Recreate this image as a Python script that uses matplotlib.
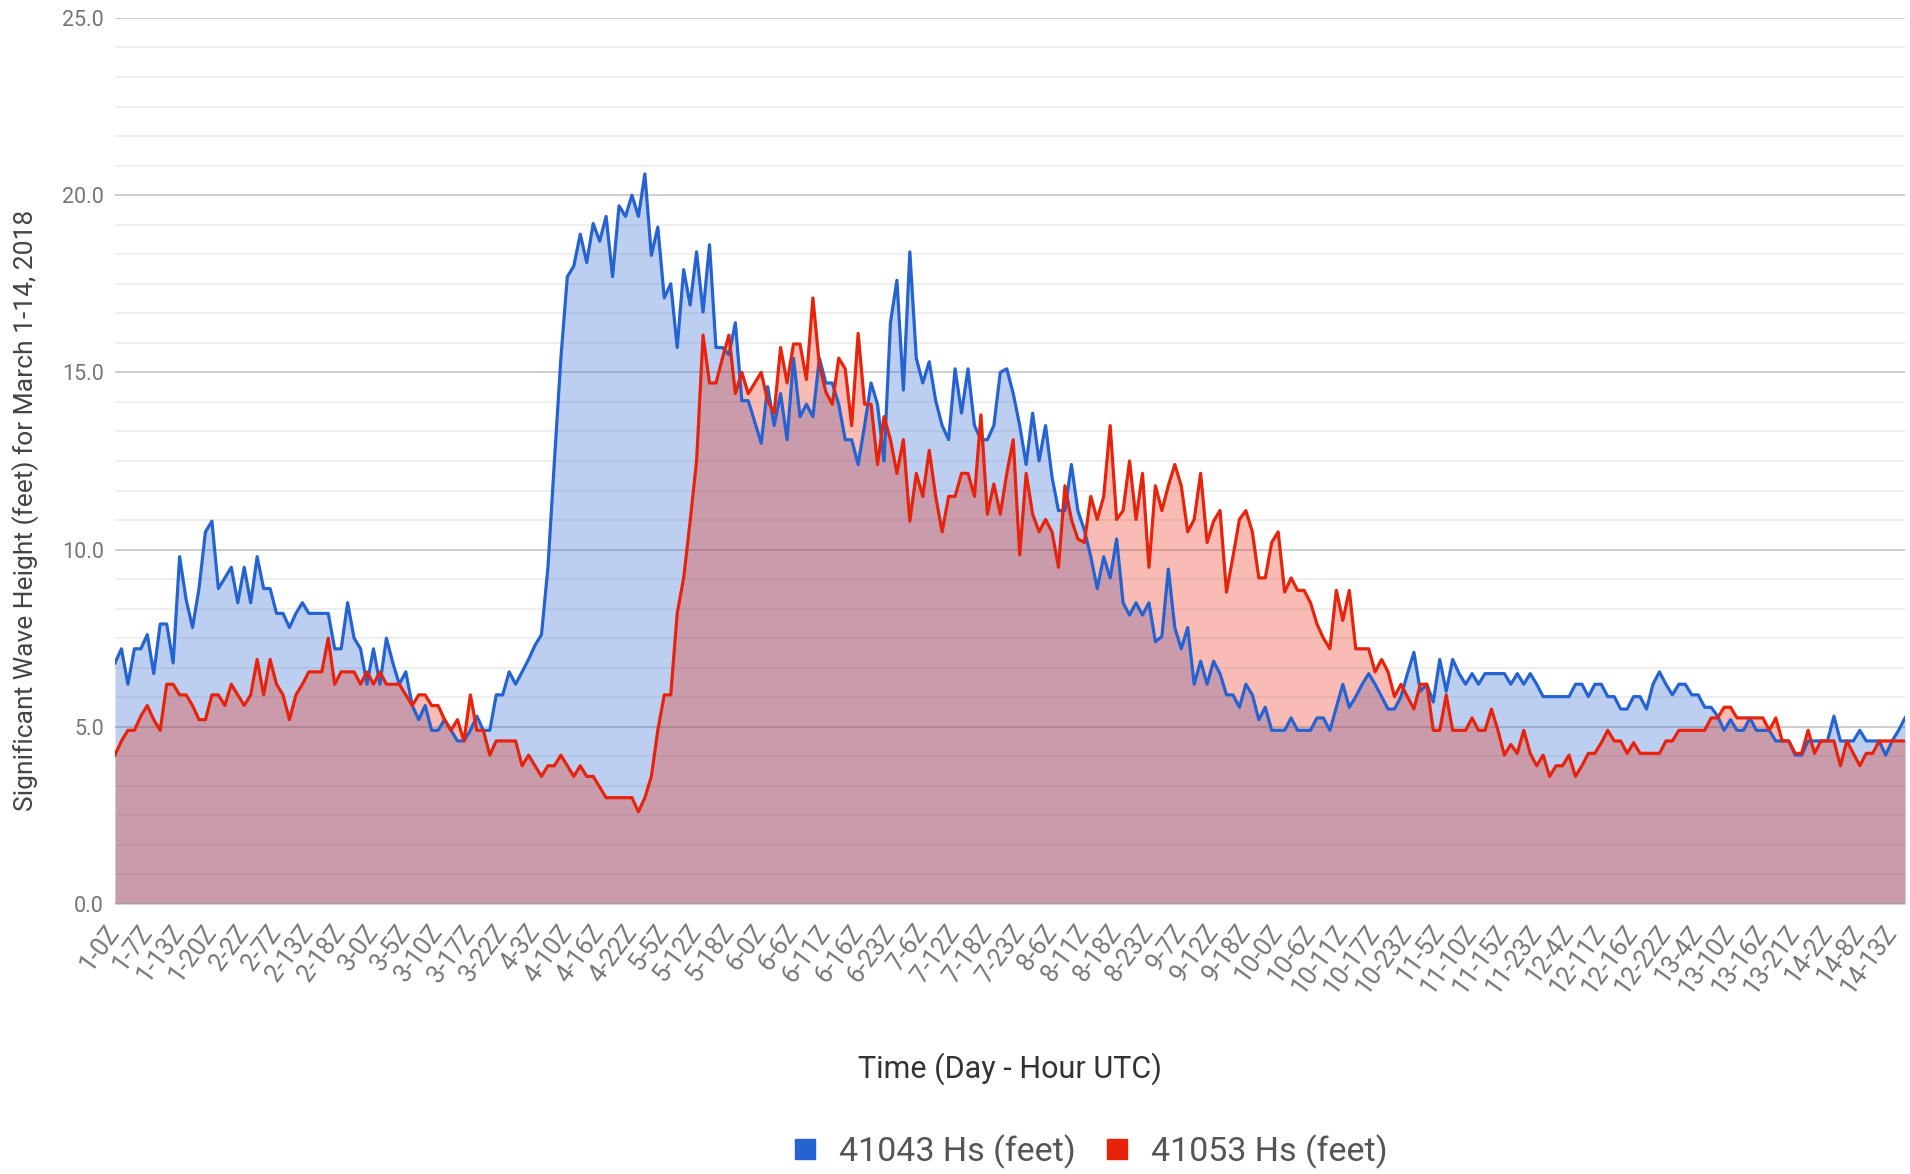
import numpy as np
import matplotlib.pyplot as plt
from matplotlib.lines import Line2D

plt.rcParams['font.family'] = ['Roboto', 'DejaVu Sans']

# hourly significant wave height (feet), March 1-14 2018
buoy_41043 = [
    6.8, 7.2, 6.2, 7.2, 7.2, 7.6, 6.5, 7.9, 7.9, 6.8,
    9.8, 8.6, 7.8, 8.9, 10.5, 10.8, 8.9, 9.2, 9.5, 8.5,
    9.5, 8.5, 9.8, 8.9, 8.9, 8.2, 8.2, 7.8, 8.2, 8.5,
    8.2, 8.2, 8.2, 8.2, 7.2, 7.2, 8.5, 7.5, 7.2, 6.2,
    7.2, 6.2, 7.5, 6.8, 6.2, 6.55, 5.6, 5.2, 5.6, 4.9,
    4.9, 5.2, 4.9, 4.6, 4.6, 4.9, 5.3, 4.9, 4.9, 5.9,
    5.9, 6.55, 6.2, 6.55, 6.9, 7.3, 7.6, 9.5, 12.5, 15.4,
    17.7, 18.0, 18.9, 18.1, 19.2, 18.7, 19.4, 17.7, 19.7, 19.4,
    20.0, 19.4, 20.6, 18.3, 19.1, 17.1, 17.5, 15.7, 17.9, 16.9,
    18.4, 16.7, 18.6, 15.7, 15.7, 15.5, 16.4, 14.2, 14.2, 13.6,
    13.0, 14.6, 13.5, 14.4, 13.1, 15.4, 13.75, 14.1, 13.75, 15.4,
    14.7, 14.7, 14.1, 13.1, 13.1, 12.4, 13.5, 14.7, 14.1, 12.5,
    16.4, 17.6, 14.5, 18.4, 15.4, 14.7, 15.3, 14.2, 13.5, 13.1,
    15.1, 13.85, 15.1, 13.5, 13.1, 13.1, 13.5, 15.0, 15.1, 14.4,
    13.5, 12.4, 13.85, 12.5, 13.5, 12.05, 11.1, 11.1, 12.4, 11.1,
    10.55, 9.8, 8.9, 9.8, 9.2, 10.3, 8.5, 8.15, 8.5, 8.15,
    8.5, 7.4, 7.55, 9.45, 7.8, 7.2, 7.8, 6.2, 6.85, 6.2,
    6.85, 6.5, 5.9, 5.9, 5.55, 6.2, 5.9, 5.2, 5.55, 4.9,
    4.9, 4.9, 5.25, 4.9, 4.9, 4.9, 5.25, 5.25, 4.9, 5.55,
    6.2, 5.55, 5.85, 6.2, 6.5, 6.2, 5.85, 5.5, 5.5, 5.85,
    6.5, 7.1, 6.0, 6.2, 5.7, 6.9, 6.0, 6.9, 6.5, 6.2,
    6.5, 6.2, 6.5, 6.5, 6.5, 6.5, 6.2, 6.5, 6.2, 6.5,
    6.2, 5.85, 5.85, 5.85, 5.85, 5.85, 6.2, 6.2, 5.85, 6.2,
    6.2, 5.85, 5.85, 5.5, 5.5, 5.85, 5.85, 5.5, 6.2, 6.55,
    6.2, 5.9, 6.2, 6.2, 5.9, 5.9, 5.55, 5.55, 5.3, 4.9,
    5.2, 4.9, 4.9, 5.25, 4.9, 4.9, 4.9, 4.6, 4.6, 4.6,
    4.2, 4.2, 4.6, 4.6, 4.6, 4.6, 5.3, 4.6, 4.6, 4.6,
    4.9, 4.6, 4.6, 4.6, 4.2, 4.6, 4.9, 5.25,
]
buoy_41053 = [
    4.2, 4.6, 4.9, 4.9, 5.3, 5.6, 5.2, 4.9, 6.2, 6.2,
    5.9, 5.9, 5.6, 5.2, 5.2, 5.9, 5.9, 5.6, 6.2, 5.9,
    5.6, 5.9, 6.9, 5.9, 6.9, 6.2, 5.9, 5.2, 5.9, 6.2,
    6.55, 6.55, 6.55, 7.5, 6.2, 6.55, 6.55, 6.55, 6.2, 6.55,
    6.2, 6.55, 6.2, 6.2, 6.2, 5.9, 5.6, 5.9, 5.9, 5.6,
    5.6, 5.2, 4.9, 5.2, 4.6, 5.9, 4.9, 4.9, 4.2, 4.6,
    4.6, 4.6, 4.6, 3.9, 4.2, 3.9, 3.6, 3.9, 3.9, 4.2,
    3.9, 3.6, 3.9, 3.6, 3.6, 3.3, 3.0, 3.0, 3.0, 3.0,
    3.0, 2.6, 3.0, 3.6, 4.9, 5.9, 5.9, 8.2, 9.2, 10.8,
    12.5, 16.05, 14.7, 14.7, 15.4, 16.05, 14.4, 15.0, 14.4, 14.7,
    15.0, 14.2, 13.85, 15.7, 14.7, 15.8, 15.8, 14.8, 17.1, 15.2,
    14.45, 14.1, 15.4, 15.1, 13.5, 16.1, 14.1, 14.1, 12.4, 13.75,
    13.1, 12.15, 13.1, 10.8, 12.15, 11.5, 12.8, 11.5, 10.5, 11.5,
    11.5, 12.15, 12.15, 11.5, 13.8, 11.0, 11.85, 11.0, 12.15, 13.1,
    9.85, 12.15, 11.0, 10.5, 10.85, 10.5, 9.5, 11.8, 10.85, 10.3,
    10.2, 11.5, 10.85, 11.5, 13.5, 10.85, 11.1, 12.5, 10.85, 12.15,
    9.5, 11.8, 11.1, 11.8, 12.4, 11.8, 10.5, 10.85, 12.15, 10.2,
    10.8, 11.1, 8.8, 9.8, 10.85, 11.1, 10.5, 9.2, 9.2, 10.2,
    10.5, 8.8, 9.2, 8.85, 8.85, 8.5, 7.9, 7.5, 7.2, 8.85,
    8.0, 8.85, 7.2, 7.2, 7.2, 6.55, 6.9, 6.55, 5.85, 6.2,
    5.85, 5.5, 6.2, 6.2, 4.9, 4.9, 5.9, 4.9, 4.9, 4.9,
    5.25, 4.9, 4.9, 5.5, 4.9, 4.2, 4.5, 4.25, 4.9, 4.25,
    3.9, 4.2, 3.6, 3.9, 3.9, 4.2, 3.6, 3.9, 4.25, 4.25,
    4.55, 4.9, 4.6, 4.6, 4.25, 4.55, 4.25, 4.25, 4.25, 4.25,
    4.6, 4.6, 4.9, 4.9, 4.9, 4.9, 4.9, 5.25, 5.25, 5.55,
    5.55, 5.25, 5.25, 5.25, 5.25, 5.25, 4.9, 5.25, 4.6, 4.6,
    4.25, 4.25, 4.9, 4.25, 4.6, 4.6, 4.6, 3.9, 4.6, 4.25,
    3.9, 4.25, 4.25, 4.6, 4.6, 4.6, 4.6, 4.6,
]
tick_labels = [
    "1-0Z", "1-7Z", "1-13Z", "1-20Z", "2-2Z", "2-7Z", "2-13Z", "2-18Z",
    "3-0Z", "3-5Z", "3-10Z", "3-17Z", "3-22Z", "4-3Z", "4-10Z", "4-16Z",
    "4-22Z", "5-5Z", "5-12Z", "5-18Z", "6-0Z", "6-6Z", "6-11Z", "6-16Z",
    "6-23Z", "7-6Z", "7-12Z", "7-18Z", "7-23Z", "8-6Z", "8-11Z", "8-18Z",
    "8-23Z", "9-7Z", "9-12Z", "9-18Z", "10-0Z", "10-6Z", "10-11Z", "10-17Z",
    "10-23Z", "11-5Z", "11-10Z", "11-15Z", "11-23Z", "12-4Z", "12-11Z", "12-16Z",
    "12-22Z", "13-4Z", "13-10Z", "13-16Z", "13-21Z", "14-2Z", "14-8Z", "14-13Z",
]
label_step = 5

blue = "#2563d2"
red = "#e8230b"

x = np.arange(len(buoy_41043))

fig = plt.figure(figsize=(19.1, 11.74), dpi=100)
ax = fig.add_axes([0.0602, 0.2300, 0.9372, 0.7547])

# grid: minor every 5/6 ft, major every 5 ft
for y in np.arange(0, 25.01, 5 / 6):
    ax.axhline(y, color="#ececec", lw=1.2, zorder=0)
for y in range(5, 26, 5):
    ax.axhline(y, color="#cfcfcf", lw=1.4, zorder=0)
ax.axhline(0, color="#a0a0a0", lw=1.6, zorder=3)

ax.fill_between(x, buoy_41043, color=blue, alpha=0.3, lw=0, zorder=1)
ax.fill_between(x, buoy_41053, color=red, alpha=0.3, lw=0, zorder=1)
ax.plot(x, buoy_41043, color=blue, lw=2.3, zorder=2)
ax.plot(x, buoy_41053, color=red, lw=2.3, zorder=2)

ax.set_xlim(0, len(x) - 1)
ax.set_ylim(0, 25)
ax.set_yticks(range(0, 26, 5))
ax.set_yticklabels([f"{v:.1f}" for v in range(0, 26, 5)])
ax.set_xticks(np.arange(len(tick_labels)) * label_step)
ax.set_xticklabels(tick_labels, rotation=54, ha="right", va="center",
                   rotation_mode="anchor")
ax.tick_params(axis="both", length=0, colors="#757575")
ax.tick_params(axis="x", pad=17, labelsize=18)
ax.tick_params(axis="y", pad=8, labelsize=15.5)
for s in ax.spines.values():
    s.set_visible(False)

fig.text(0.0136, 0.565, "Significant Wave Height (feet) for March 1-14, 2018",
         rotation=90, ha="center", va="center", fontsize=19, color="#444444")
fig.text(0.5288, 0.0894, "Time (Day - Hour UTC)", ha="center", va="center",
         fontsize=22, color="#333333")

handles = [
    Line2D([], [], marker="s", ls="", color=blue, markersize=14),
    Line2D([], [], marker="s", ls="", color=red, markersize=14),
]
fig.legend(handles, ["41043 Hs (feet)", "41053 Hs (feet)"], loc="center",
           bbox_to_anchor=(0.565, 0.019), ncol=2, frameon=False,
           fontsize=24.5, labelcolor="#555555", handletextpad=0.0,
           columnspacing=0.2)

fig.savefig("out.png", dpi=100)
